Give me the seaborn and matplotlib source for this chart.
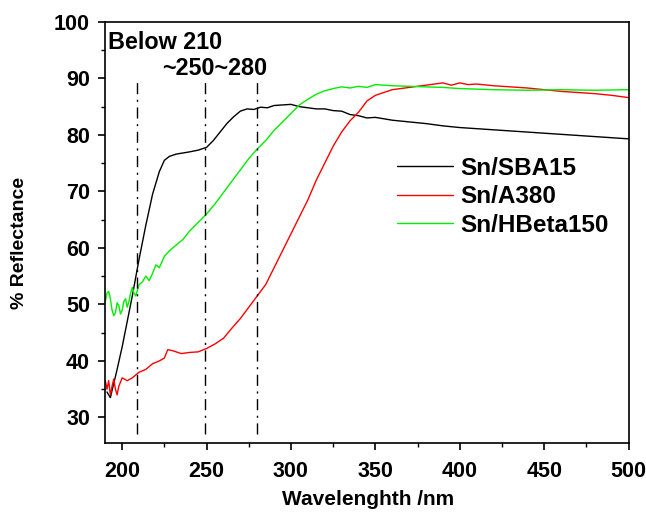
import numpy as np
import pandas as pd
import seaborn as sns
import matplotlib.pyplot as plt
from matplotlib.ticker import MultipleLocator

# ---- data ----
wl_sba = [191, 193, 195, 197, 200, 203, 206, 210, 214, 218, 222, 225, 228, 232, 236, 240, 245,
          250, 254, 258, 262, 266, 270, 274, 278, 282, 286, 290, 295, 300, 305, 310, 315, 320,
          325, 330, 335, 340, 345, 350, 360, 370, 380, 390, 400, 420, 440, 460, 480, 500]
r_sba = [34.5, 33.5, 36.0, 38.5, 42.5, 47.0, 51.5, 58.0, 64.0, 69.5, 73.5, 75.5, 76.2, 76.6,
         76.8, 77.0, 77.3, 77.8, 79.0, 80.5, 82.0, 83.2, 84.2, 84.6, 84.5, 84.9, 84.8, 85.2, 85.3,
         85.4, 85.0, 84.8, 84.6, 84.6, 84.3, 84.2, 83.6, 83.4, 83.0, 83.1, 82.6, 82.3, 82.0, 81.6,
         81.3, 80.9, 80.5, 80.1, 79.7, 79.3]

wl_a380 = [190, 191, 192, 193, 194, 195, 196, 197, 198, 200, 203, 206, 210, 214, 218, 222, 225,
           227, 230, 235, 240, 245, 250, 255, 260, 265, 270, 275, 280, 285, 290, 295, 300, 305,
           310, 315, 320, 325, 330, 335, 340, 345, 350, 355, 360, 370, 380, 385, 390, 395, 400,
           405, 410, 420, 430, 440, 450, 460, 470, 480, 490, 500]
r_a380 = [36.5, 35.0, 36.5, 34.0, 35.5, 36.8, 35.0, 34.0, 35.5, 37.0, 36.5, 37.0, 38.0, 38.5,
          39.5, 40.0, 40.5, 42.0, 41.8, 41.3, 41.5, 41.6, 42.2, 43.0, 44.0, 45.8, 47.5, 49.5,
          51.5, 53.5, 56.5, 59.5, 62.5, 65.5, 68.5, 72.0, 75.0, 78.0, 80.5, 82.5, 84.0, 86.0,
          87.0, 87.5, 88.0, 88.4, 88.8, 89.0, 89.2, 88.8, 89.2, 88.9, 89.0, 88.7, 88.5, 88.3,
          88.0, 87.7, 87.5, 87.3, 87.0, 86.6]

wl_hb = [190, 191, 192, 193, 194, 195, 196, 197, 198, 199, 200, 201, 202, 203, 204, 205, 206,
         207, 208, 210, 212, 214, 216, 218, 220, 222, 225, 228, 232, 236, 240, 245, 250, 255,
         260, 265, 270, 275, 280, 285, 290, 295, 300, 305, 310, 315, 320, 325, 330, 335, 340,
         345, 350, 360, 370, 380, 390, 400, 420, 440, 460, 480, 500]
r_hb = [50.5, 52.0, 52.3, 51.0, 49.0, 48.0, 48.5, 50.3, 49.8, 48.3, 49.0, 50.5, 51.0, 49.5,
        50.5, 52.0, 53.0, 52.0, 51.5, 53.5, 54.0, 55.0, 54.2, 55.5, 57.0, 56.5, 58.5, 59.5,
        60.5, 61.5, 63.0, 64.5, 66.0, 67.8, 69.8, 71.8, 73.8, 75.8, 77.5, 79.0, 80.8, 82.3,
        83.8, 85.3, 86.3, 87.2, 87.8, 88.2, 88.5, 88.3, 88.6, 88.4, 88.9, 88.7, 88.6, 88.5,
        88.4, 88.2, 88.0, 87.9, 88.0, 87.9, 88.0]

series = ["Sn/SBA15", "Sn/A380", "Sn/HBeta150"]
colors = ["black", "red", "#00ee00"]
vlines = [209, 249, 280]

df = pd.concat([
    pd.DataFrame({"wl": wl_sba, "R": r_sba, "Sample": series[0]}),
    pd.DataFrame({"wl": wl_a380, "R": r_a380, "Sample": series[1]}),
    pd.DataFrame({"wl": wl_hb, "R": r_hb, "Sample": series[2]}),
])

sns.set_theme(style="ticks")
plt.rcParams['font.family'] = ['Liberation Sans', 'DejaVu Sans']
plt.rcParams['font.weight'] = 'bold'
for key in ['text.color', 'axes.labelcolor', 'xtick.color', 'ytick.color']:
    plt.rcParams[key] = 'black'

fig, ax = plt.subplots(figsize=(6.46, 5.21), dpi=100)
fig.subplots_adjust(left=0.163, right=0.973, top=0.958, bottom=0.15)

sns.lineplot(data=df, x="wl", y="R", hue="Sample", palette=dict(zip(series, colors)),
             linewidth=1.0, ax=ax, sort=False)

for v in vlines:
    ax.plot([v, v], [27, 90], color="black", lw=1.0, ls=(0, (8, 4, 1.5, 4)))

ax.set_xlim(190, 500)
ax.set_ylim(25.5, 100)
ax.xaxis.set_major_locator(MultipleLocator(50))
ax.xaxis.set_minor_locator(MultipleLocator(25))
ax.yaxis.set_major_locator(MultipleLocator(10))
ax.yaxis.set_minor_locator(MultipleLocator(5))
ax.tick_params(axis="both", which="major", length=5, width=1.2, labelsize=15.5, direction="out")
ax.tick_params(axis="x", which="major", pad=8)
ax.tick_params(axis="y", which="major", pad=6)
ax.tick_params(axis="both", which="minor", length=3, width=1.0, direction="out")
for lab in ax.get_xticklabels() + ax.get_yticklabels():
    lab.set_fontweight("bold")
for s in ax.spines.values():
    s.set_linewidth(1.2)
    s.set_color("black")

ax.set_xlabel("Wavelenghth /nm", fontsize=15, fontweight="bold")
ax.set_ylabel("% Reflectance", fontsize=14, fontweight="bold")
ax.xaxis.set_label_coords(0.502, -0.113)
ax.yaxis.set_label_coords(-0.147, 0.475)

ax.text(191.5, 96.3, "Below 210", fontsize=16.8, fontweight="bold", va="center", ha="left")
ax.text(254.7, 91.8, "~250~280", fontsize=16.8, fontweight="bold", va="center", ha="center")

leg = ax.legend(loc="upper left", bbox_to_anchor=(0.535, 0.709), frameon=False, borderpad=0,
                handlelength=2.27, labelspacing=0.23, handletextpad=0.3,
                prop={"weight": "bold", "size": 17.5})

fig.savefig("out.png", dpi=100)
